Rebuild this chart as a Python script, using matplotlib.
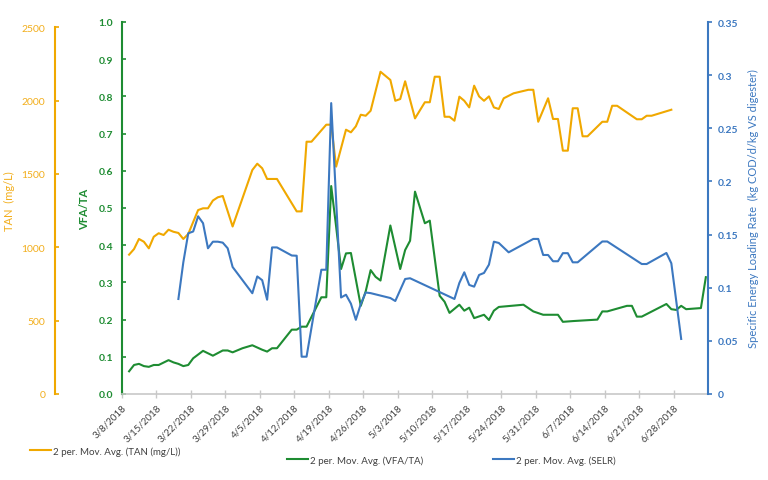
import numpy as np
import pandas as pd
import matplotlib
matplotlib.use('Agg')
import matplotlib.pyplot as plt
from matplotlib.ticker import FixedLocator, FuncFormatter

plt.rcParams['font.family'] = ['Lato', 'DejaVu Sans']

# ---------------- data (days counted from START) ----------------
START = '2018-03-08'
END_DAY = 119  # 7/5/2018, right end of the date axis

tan_day = [1, 2, 3, 4, 5, 6, 7, 8, 9, 10, 11, 12, 13, 15, 16, 17, 18, 19, 20, 22,
           26, 27, 28, 29, 31, 35, 36, 37, 38, 41, 42, 43, 45, 46, 47, 48, 49, 50,
           52, 54, 55, 56, 57, 59, 61, 62, 63, 64, 65, 66, 67, 68, 69, 70, 71, 72,
           73, 74, 75, 76, 77, 79, 82, 83, 84, 86, 87, 88, 89, 90, 91, 92, 93, 94,
           97, 98, 99, 100, 104, 105, 106, 107, 111]
tan_val = [950, 988, 1057, 1038, 993, 1072, 1096, 1084, 1120, 1106, 1098, 1057, 1091,
           1254, 1266, 1266, 1319, 1341, 1350, 1142, 1527, 1570, 1539, 1466, 1466,
           1245, 1245, 1720, 1720, 1836, 1836, 1550, 1802, 1784, 1825, 1904, 1897,
           1931, 2197, 2141, 1999, 2011, 2132, 1879, 1989, 1989, 2163, 2163, 1890,
           1890, 1863, 2027, 1999, 1954, 2102, 2029, 1999, 2029, 1954, 1943, 2016,
           2050, 2074, 2074, 1856, 2016, 1875, 1875, 1659, 1659, 1948, 1948, 1757,
           1757, 1856, 1856, 1965, 1965, 1873, 1873, 1897, 1897, 1938]

vfa_day = [1, 2, 3, 4, 5, 6, 7, 9, 10, 11, 12, 13, 14, 16, 18, 20, 21, 22, 24, 26,
           28, 29, 30, 31, 34, 35, 36, 37, 40, 41, 42, 43, 44, 45, 46, 48, 49, 50,
           51, 52, 54, 56, 57, 58, 59, 61, 62, 64, 65, 66, 68, 69, 70, 71, 73, 74,
           75, 76, 81, 83, 85, 88, 89, 91, 96, 97, 98, 102, 103, 104, 105, 110, 111,
           112, 113, 114, 117, 118]
vfa_val = [0.061, 0.078, 0.081, 0.075, 0.073, 0.078, 0.078, 0.091, 0.085, 0.081,
           0.075, 0.078, 0.096, 0.116, 0.103, 0.117, 0.117, 0.112, 0.123, 0.131,
           0.119, 0.114, 0.123, 0.123, 0.173, 0.173, 0.181, 0.181, 0.260, 0.260,
           0.559, 0.450, 0.336, 0.378, 0.379, 0.237, 0.276, 0.333, 0.315, 0.305,
           0.453, 0.336, 0.387, 0.412, 0.544, 0.459, 0.466, 0.264, 0.248, 0.218,
           0.240, 0.224, 0.232, 0.204, 0.213, 0.199, 0.224, 0.234, 0.240, 0.222,
           0.213, 0.213, 0.194, 0.196, 0.200, 0.222, 0.222, 0.237, 0.237, 0.208,
           0.208, 0.242, 0.228, 0.226, 0.237, 0.228, 0.231, 0.314]

selr_day = [11, 12, 13, 14, 15, 16, 17, 18, 19, 20, 21, 22, 26, 27, 28, 29, 30, 31,
            34, 35, 36, 37, 40, 41, 42, 44, 45, 46, 47, 48, 49, 50, 54, 55, 57, 58,
            67, 68, 69, 70, 71, 72, 73, 74, 75, 76, 78, 83, 84, 85, 86, 87, 88, 89,
            90, 91, 92, 97, 98, 105, 106, 110, 111, 113]
selr_val = [0.0894, 0.1239, 0.1512, 0.1529, 0.1672, 0.1607, 0.1371, 0.1433, 0.1433,
            0.1424, 0.1371, 0.1195, 0.0948, 0.1106, 0.1071, 0.0887, 0.1379, 0.1379,
            0.1303, 0.1301, 0.0351, 0.0351, 0.1169, 0.1169, 0.2737, 0.0908, 0.0934,
            0.0850, 0.0698, 0.0847, 0.0955, 0.0949, 0.0903, 0.0875, 0.1082, 0.1089,
            0.0894, 0.1045, 0.1145, 0.1026, 0.1010, 0.1120, 0.1139, 0.1217, 0.1433,
            0.1421, 0.1333, 0.1459, 0.1459, 0.1308, 0.1308, 0.1249, 0.1249, 0.1325,
            0.1325, 0.1239, 0.1239, 0.1435, 0.1435, 0.1223, 0.1223, 0.1327, 0.1230,
            0.0518]

tick_days = list(range(0, 113, 7))   # 3/8/2018 ... 6/28/2018
tan_ticks = [0, 500, 1000, 1500, 2000, 2500]
vfa_ticks = [0.0, 0.1, 0.2, 0.3, 0.4, 0.5, 0.6, 0.7, 0.8, 0.9, 1.0]
selr_ticks = [0, 0.05, 0.1, 0.15, 0.2, 0.25, 0.3, 0.35]

labels = ['2 per. Mov. Avg. (TAN (mg/L))',
          '2 per. Mov. Avg. (VFA/TA)',
          '2 per. Mov. Avg. (SELR)']

# ---------------- style ----------------
C_TAN = '#F0A800'
C_VFA = '#1E8C32'
C_SELR = '#3C78C0'
C_TAN_TXT = '#F2AE1C'
C_GRAY = '#C8C8C8'
C_TXT = '#404040'
LW = 1.5

start = pd.Timestamp(START)


def to_dates(days):
    # Excel date axis places each point in the middle of its day
    return start + pd.to_timedelta(np.asarray(days, dtype=float) + 0.5, unit='D')


fig = plt.figure(figsize=(7.68, 4.81), dpi=100)
fig.patch.set_facecolor('white')

L, R, T, Bt = 121.7, 708.3, 23.0, 395.0
W_PX, H_PX = 768.0, 481.0
ax = fig.add_axes([L / W_PX, 1 - Bt / H_PX, (R - L) / W_PX, (Bt - T) / H_PX])
ax.patch.set_visible(False)
ax_tan = ax.twinx()
ax_selr = ax.twinx()
ax_tan.set_zorder(0)
ax.set_zorder(1)
ax_selr.set_zorder(2)

l_tan, = ax_tan.plot(to_dates(tan_day), tan_val, color=C_TAN, lw=LW)
l_vfa, = ax.plot(to_dates(vfa_day), vfa_val, color=C_VFA, lw=LW)
l_selr, = ax_selr.plot(to_dates(selr_day), selr_val, color=C_SELR, lw=LW)

# x axis
x0 = start
x1 = start + pd.Timedelta(days=END_DAY)
ax.set_xlim(x0, x1)
tick_dates = [start + pd.Timedelta(days=d) for d in tick_days]
ax.set_xticks(tick_dates)
ax.set_xticklabels([f'{d.month}/{d.day}/{d.year}' for d in tick_dates])
ax.tick_params(axis='x', direction='inout', length=6, width=1, color=C_GRAY,
               labelsize=7, labelcolor=C_TXT, pad=3)
plt.setp(ax.get_xticklabels(), rotation=45, ha='right', va='top',
         rotation_mode='anchor')

# VFA axis (inner left)
ax.set_ylim(0, 1.0)
ax.yaxis.set_major_locator(FixedLocator(vfa_ticks))
ax.yaxis.set_major_formatter(FuncFormatter(lambda v, p: f'{v:.1f}'))
ax.tick_params(axis='y', direction='in', length=3, width=1.2, color=C_VFA,
               labelsize=7.5, labelcolor=C_VFA, pad=6)
for lbl in ax.get_yticklabels():
    lbl.set_fontweight('bold')
ax.set_ylabel('VFA/TA', color=C_VFA, fontsize=8, fontweight='bold')
ax.yaxis.set_label_coords((90 - L) / (R - L), 0.5)
ax.spines['left'].set_color(C_VFA)
ax.spines['left'].set_linewidth(1.5)
ax.spines['bottom'].set_color(C_GRAY)
ax.spines['bottom'].set_linewidth(1.2)
ax.spines['top'].set_visible(False)
ax.spines['right'].set_visible(False)

# TAN axis (outer left)
tan_top = 2500 * (Bt - T) / (Bt - 28.3)
ax_tan.set_ylim(0, tan_top)
ax_tan.yaxis.set_ticks_position('left')
ax_tan.yaxis.set_label_position('left')
ax_tan.spines['left'].set_position(('axes', (55 - L) / (R - L)))
ax_tan.spines['left'].set_visible(True)
ax_tan.spines['left'].set_bounds(0, 2500)
ax_tan.spines['left'].set_color(C_TAN)
ax_tan.spines['left'].set_linewidth(1.5)
for s in ['right', 'top', 'bottom']:
    ax_tan.spines[s].set_visible(False)
ax_tan.yaxis.set_major_locator(FixedLocator(tan_ticks))
ax_tan.yaxis.set_major_formatter(FuncFormatter(lambda v, p: f'{v:.0f}'))
ax_tan.tick_params(axis='y', direction='in', length=3, width=1.2, color=C_TAN,
                   labelsize=7.5, labelcolor=C_TAN_TXT, pad=7)
ax_tan.set_ylabel('TAN  (mg/L)', color=C_TAN_TXT, fontsize=8)
ax_tan.yaxis.set_label_coords((15 - L) / (R - L), 0.52)

# SELR axis (right)
ax_selr.set_ylim(0, 0.35)
ax_selr.yaxis.set_major_locator(FixedLocator(selr_ticks))
ax_selr.yaxis.set_major_formatter(FuncFormatter(lambda v, p: f'{v:g}'))
ax_selr.tick_params(axis='y', direction='out', length=3, width=1.2, color=C_SELR,
                    labelsize=7.5, labelcolor=C_SELR, pad=4)
for lbl in ax_selr.get_yticklabels():
    lbl.set_fontweight('bold')
ax_selr.spines['right'].set_color(C_SELR)
ax_selr.spines['right'].set_linewidth(1.5)
for s in ['left', 'top', 'bottom']:
    ax_selr.spines[s].set_visible(False)
ax_selr.set_ylabel('Specific Energy Loading Rate  (kg COD/d/kg VS digester)',
                   color=C_SELR, fontsize=8)
ax_selr.yaxis.set_label_coords((748 - L) / (R - L), 0.5)

# legend entries (three separate blocks, as in the reference)
leg_pos = [(30 / W_PX, 1 - 452 / H_PX), (287 / W_PX, 1 - 461 / H_PX),
           (493 / W_PX, 1 - 461 / H_PX)]
for h, lab, pos in zip([l_tan, l_vfa, l_selr], labels, leg_pos):
    fig.legend([h], [lab], loc='center left', bbox_to_anchor=pos,
               bbox_transform=fig.transFigure, frameon=False, fontsize=7,
               handlelength=2.2, handletextpad=0.2, borderpad=0,
               borderaxespad=0, labelcolor=C_TXT)

fig.savefig('out.png', dpi=100, facecolor='white')
